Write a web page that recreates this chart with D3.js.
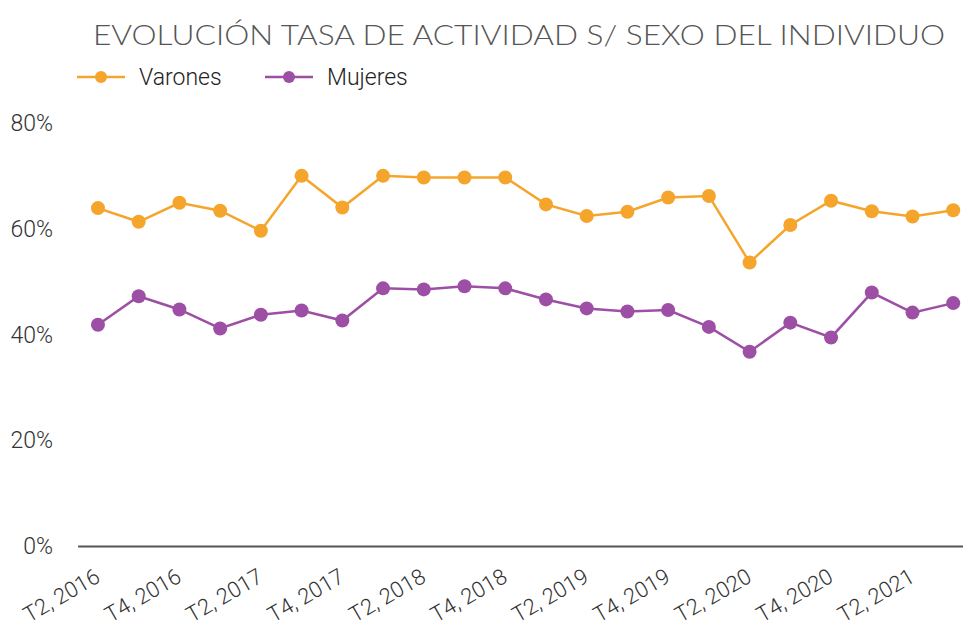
<!DOCTYPE html>
<html>
<head>
<meta charset="utf-8">
<script src="https://cdn.jsdelivr.net/npm/d3@7"></script>
<style>
  body { margin: 0; background: #fff; }
  svg { display: block; }
</style>
</head>
<body>
<div id="chart"></div>
<script>
// trimestres T2 2016 .. T3 2021
var quarters = ["T2, 2016", "T3, 2016", "T4, 2016", "T1, 2017", "T2, 2017", "T3, 2017", "T4, 2017",
  "T1, 2018", "T2, 2018", "T3, 2018", "T4, 2018", "T1, 2019", "T2, 2019", "T3, 2019", "T4, 2019",
  "T1, 2020", "T2, 2020", "T3, 2020", "T4, 2020", "T1, 2021", "T2, 2021", "T3, 2021"];
var varones = [64.0, 61.4, 65.0, 63.5, 59.7, 70.1, 64.1, 70.1, 69.8, 69.8, 69.8, 64.7, 62.5, 63.3,
  66.0, 66.3, 53.7, 60.8, 65.4, 63.4, 62.4, 63.6];
var mujeres = [41.9, 47.3, 44.8, 41.2, 43.8, 44.6, 42.7, 48.8, 48.6, 49.2, 48.8, 46.7, 45.0, 44.4,
  44.7, 41.5, 36.8, 42.3, 39.5, 48.0, 44.2, 46.0];
var yTicks = [0, 20, 40, 60, 80];
var title = "EVOLUCIÓN TASA DE ACTIVIDAD S/ SEXO DEL INDIVIDUO";

var width = 963, height = 632;
var colors = { Varones: "#f5a52c", Mujeres: "#9d4fa5" };

var svg = d3.select("#chart")
  .append("svg")
  .attr("width", width)
  .attr("height", height);

// scales
var x = d3.scalePoint()
  .domain(quarters)
  .range([77.6, 973.6])
  .padding(0.5);

var y = d3.scaleLinear()
  .domain([0, 80])
  .range([546, 123.6]);

// title
svg.append("text")
  .attr("x", 93)
  .attr("y", 45)
  .attr("textLength", 852)
  .attr("lengthAdjust", "spacingAndGlyphs")
  .style("font-family", "Lato, 'Open Sans', sans-serif")
  .style("font-weight", 300)
  .style("font-size", "28px")
  .attr("fill", "#555")
  .text(title);

// y axis labels (no line)
var yAxis = svg.append("g")
  .attr("transform", "translate(53,0)")
  .call(d3.axisLeft(y).tickValues(yTicks).tickSize(0).tickPadding(0).tickFormat(function (d) { return d + "%"; }));
yAxis.select(".domain").remove();
yAxis.selectAll("text")
  .style("font-family", "Roboto, sans-serif")
  .style("font-weight", 300)
  .style("font-size", "23px")
  .attr("fill", "#333");

// x axis
var xAxis = svg.append("g")
  .attr("transform", "translate(0,546)")
  .call(d3.axisBottom(x)
    .tickValues(quarters.filter(function (d, i) { return i % 2 === 0; }))
    .tickSize(0).tickPadding(0).tickSizeOuter(0));
xAxis.select(".domain")
  .attr("stroke", "#555")
  .attr("stroke-width", 2);
xAxis.selectAll("text")
  .style("font-family", "Roboto, sans-serif")
  .style("font-weight", 300)
  .style("font-size", "22px")
  .attr("fill", "#333")
  .attr("text-anchor", "end")
  .attr("dy", 0)
  .attr("transform", "translate(3,35) rotate(-30)");

// lines
var series = [{ name: "Varones", values: varones }, { name: "Mujeres", values: mujeres }];

var line = d3.line()
  .x(function (d, i) { return x(quarters[i]); })
  .y(function (d) { return y(d); });

series.forEach(function (s) {
  svg.append("path")
    .datum(s.values)
    .attr("fill", "none")
    .attr("stroke", colors[s.name])
    .attr("stroke-width", 2.5)
    .attr("d", line);

  svg.append("g")
    .selectAll("circle")
    .data(s.values)
    .join("circle")
    .attr("cx", function (d, i) { return x(quarters[i]); })
    .attr("cy", function (d) { return y(d); })
    .attr("r", 7)
    .attr("fill", colors[s.name]);
});

// legend
var legend = svg.append("g").attr("transform", "translate(77,77)");
var lx = [0, 188];
series.forEach(function (s, i) {
  var g = legend.append("g").attr("transform", "translate(" + lx[i] + ",0)");
  g.append("line")
    .attr("x1", 0).attr("x2", 48)
    .attr("stroke", colors[s.name])
    .attr("stroke-width", 2.5);
  g.append("circle")
    .attr("cx", 24).attr("r", 6)
    .attr("fill", colors[s.name]);
  g.append("text")
    .attr("x", 62)
    .attr("dy", "0.35em")
    .style("font-family", "Roboto, sans-serif")
    .style("font-weight", 300)
    .style("font-size", "23px")
    .attr("fill", "#222")
    .text(s.name);
});
</script>
</body>
</html>
